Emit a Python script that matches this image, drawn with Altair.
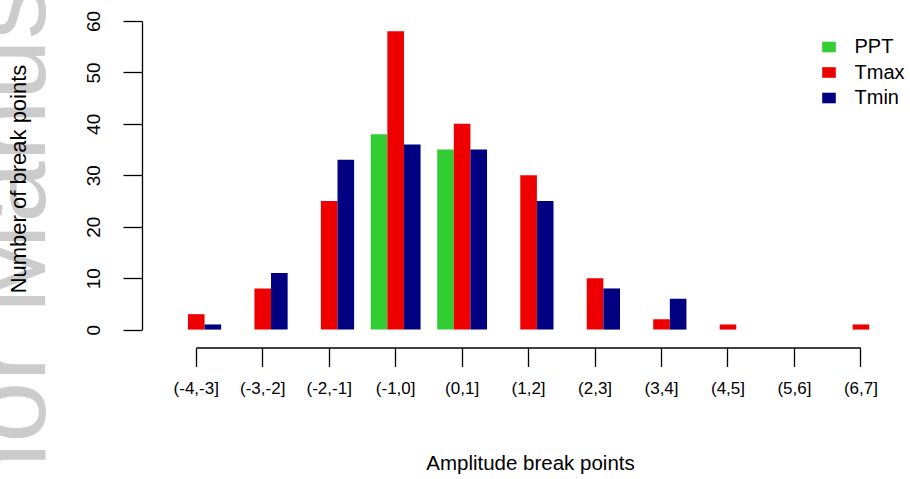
import altair as alt
import pandas as pd

categories = ["(-4,-3]", "(-3,-2]", "(-2,-1]", "(-1,0]", "(0,1]", "(1,2]",
              "(2,3]", "(3,4]", "(4,5]", "(5,6]", "(6,7]"]
series_names = ["PPT", "Tmax", "Tmin"]
ppt = [0, 0, 0, 38, 35, 0, 0, 0, 0, 0, 0]
tmax = [3, 8, 25, 58, 40, 30, 10, 2, 1, 0, 1]
tmin = [1, 11, 33, 36, 35, 25, 8, 6, 0, 0, 0]
colors = ["#32CD32", "#EE0000", "#000080"]
y_ticks = [0, 10, 20, 30, 40, 50, 60]
watermark = "Author Manuscript"

rows = []
for name, vals in zip(series_names, [ppt, tmax, tmin]):
    for c, v in zip(categories, vals):
        rows.append({"cat": c, "series": name, "value": v})
df = pd.DataFrame(rows)

W = 760
H = 308.6
FONT = "Liberation Sans"

x_axis = alt.Axis(
    domain=False, ticks=True, tickSize=18.5, tickWidth=1.3, tickColor="black",
    offset=18.4, bandPosition=0.5, labelAngle=0, labelFontSize=17,
    labelColor="black", labelFont=FONT, labelPadding=14,
    titleFontSize=20.5, titleFont=FONT, titleFontWeight="normal",
    titleColor="black", titleX=388, titleY=121, titleBaseline="alphabetic",
    titleAnchor="start", titleAlign="center", zindex=1,
)
x_enc = alt.X("cat:N", scale=alt.Scale(domain=categories, paddingInner=0.25,
                                       paddingOuter=0.342, align=0.645),
              axis=x_axis, title="Amplitude break points")

bars = alt.Chart(df).mark_bar().encode(
    x=x_enc,
    xOffset=alt.XOffset("series:N", scale=alt.Scale(domain=series_names,
                                                    paddingInner=0, paddingOuter=0)),
    y=alt.Y("value:Q", scale=alt.Scale(domain=[0, 60], nice=False, zero=True),
            axis=alt.Axis(values=y_ticks, domain=True, domainColor="black",
                          domainWidth=1.3, tickSize=19, tickWidth=1.3,
                          tickColor="black", grid=False, labelAngle=270,
                          labelAlign="center", labelBaseline="alphabetic",
                          labelPadding=24, labelFontSize=19, labelFont=FONT,
                          labelColor="black", titleFontSize=22, titleFont=FONT,
                          titleFontWeight="normal", titleColor="black",
                          titleAngle=270, titleX=-124, titleY=157.5,
                          titleAlign="center", titleBaseline="middle",
                          zindex=1),
            title="Number of break points"),
    color=alt.Color("series:N",
                    scale=alt.Scale(domain=series_names, range=colors),
                    legend=alt.Legend(title=None, orient="none", legendX=677,
                                      legendY=16, labelFontSize=20,
                                      labelFont=FONT, labelColor="black",
                                      symbolType="M-1,-0.78H1V0.78H-1Z",
                                      symbolSize=185, symbolStrokeWidth=0,
                                      symbolOpacity=1, rowPadding=5.5,
                                      labelOffset=15.5, padding=0)),
)

axis_df = pd.DataFrame({"cat": [categories[0]], "cat_end": [categories[-1]]})
axis_line = alt.Chart(axis_df).mark_rule(color="black", strokeWidth=1.3).encode(
    x=alt.X("cat:N", axis=x_axis, title="Amplitude break points"),
    x2="cat_end:N",
    y=alt.value(H + 18.4),
)

wm_df = pd.DataFrame({"t": [watermark]})
wm = alt.Chart(wm_df).mark_text(
    fontSize=110, font=FONT, angle=270, align="left", baseline="alphabetic",
    color="#cccccc",
).encode(text="t:N", x=alt.value(-97), y=alt.value(648))

chart = alt.layer(wm, bars, axis_line).properties(
    width=W, height=H,
    autosize=alt.AutoSizeParams(type="none"),
    padding={"left": 142, "top": 21, "right": 8, "bottom": 149.4},
    background="white",
).configure_view(stroke=None)

chart.save("out.html", embed_options={"renderer": "svg", "actions": False})
